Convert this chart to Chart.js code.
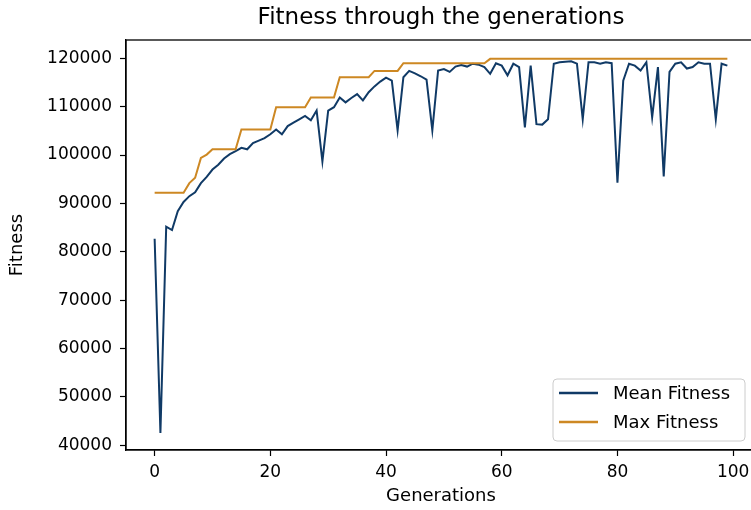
<!DOCTYPE html>
<html>
<head>
<meta charset="utf-8">
<title>Fitness through the generations</title>
<script src="https://cdn.jsdelivr.net/npm/chart.js@4.4.0/dist/chart.umd.min.js"></script>
<style>
  html, body { margin: 0; padding: 0; overflow: hidden; background: #fff; }
  #wrap { width: 751px; height: 510px; overflow: hidden; }
</style>
</head>
<body>
<div id="wrap"><canvas id="chart" width="762" height="510"></canvas></div>
<script>
// values, one per generation (0..99)
var meanFitness = [
  82700, 42500, 85200, 84500, 88400, 90300, 91500, 92300, 94200, 95500,
  97000, 98000, 99300, 100200, 100800, 101500, 101200, 102500, 103000, 103500,
  104300, 105300, 104300, 106000, 106700, 107400, 108100, 107200, 109200, 98700,
  109200, 109900, 111900, 110900, 111800, 112600, 111300, 113000, 114200, 115200,
  116000, 115400, 105100, 116100, 117400, 116900, 116300, 115600, 105100, 117500,
  117800, 117200, 118300, 118600, 118300, 118900, 118700, 118200, 116800, 119000,
  118500, 116500, 118900, 118200, 105700, 118500, 106400, 106300, 107400, 118900,
  119200, 119300, 119400, 118900, 107400, 119200, 119200, 118900, 119200, 119000,
  94300, 115400, 118900, 118500, 117500, 119200, 107800, 118200, 95600, 117200,
  118900, 119200, 117900, 118200, 119200, 118900, 118900, 107400, 118900, 118500
];
var maxFitness = [
  92200, 92200, 92200, 92200, 92200, 92200, 94200, 95300, 99400, 100100,
  101200, 101200, 101200, 101200, 101200, 105300, 105300, 105300, 105300, 105300,
  105300, 109900, 109900, 109900, 109900, 109900, 109900, 111900, 111900, 111900,
  111900, 111900, 116100, 116100, 116100, 116100, 116100, 116100, 117400, 117400,
  117400, 117400, 117400, 119000, 119000, 119000, 119000, 119000, 119000, 119000,
  119000, 119000, 119000, 119000, 119000, 119000, 119000, 119000, 119900, 119900,
  119900, 119900, 119900, 119900, 119900, 119900, 119900, 119900, 119900, 119900,
  119900, 119900, 119900, 119900, 119900, 119900, 119900, 119900, 119900, 119900,
  119900, 119900, 119900, 119900, 119900, 119900, 119900, 119900, 119900, 119900,
  119900, 119900, 119900, 119900, 119900, 119900, 119900, 119900, 119900, 119900
];
var xTicks = [0, 20, 40, 60, 80, 100];
var yTicks = [40000, 50000, 60000, 70000, 80000, 90000, 100000, 110000, 120000];
var seriesNames = ['Mean Fitness', 'Max Fitness'];

function toPoints(values) {
  return values.map(function (v, i) { return { x: i, y: v }; });
}

var fontFamily = '"DejaVu Sans", sans-serif';

// legend box inside the axes, lower right (like matplotlib's loc="lower right")
var insideLegend = {
  id: 'insideLegend',
  afterDraw: function (chart) {
    var ctx = chart.ctx;
    var area = chart.chartArea;
    var w = 192, h = 62;
    var x = area.right - 11 - w;
    var y = area.bottom - 9 - h;
    ctx.save();
    ctx.beginPath();
    ctx.roundRect(x, y, w, h, 4);
    ctx.fillStyle = 'rgba(255,255,255,0.8)';
    ctx.fill();
    ctx.strokeStyle = '#cccccc';
    ctx.lineWidth = 1;
    ctx.stroke();
    ctx.font = '18px ' + fontFamily;
    ctx.textBaseline = 'middle';
    chart.data.datasets.forEach(function (ds, i) {
      var ly = y + 14 + i * 29;
      ctx.beginPath();
      ctx.moveTo(x + 6, ly);
      ctx.lineTo(x + 45, ly);
      ctx.strokeStyle = ds.borderColor;
      ctx.lineWidth = 2.5;
      ctx.stroke();
      ctx.fillStyle = '#000';
      ctx.fillText(ds.label, x + 60, ly + 1);
    });
    ctx.restore();
  }
};

// top / right spines
var frame = {
  id: 'frame',
  afterDatasetsDraw: function (chart) {
    var ctx = chart.ctx;
    var a = chart.chartArea;
    ctx.save();
    ctx.strokeStyle = '#000';
    ctx.lineWidth = 1.3;
    ctx.strokeRect(a.left, a.top, a.right - a.left, a.bottom - a.top);
    ctx.restore();
  }
};

var canvas = document.getElementById('chart');
var chart = new Chart(canvas, {
  type: 'line',
  data: {
    datasets: [{
      label: seriesNames[0],
      data: toPoints(meanFitness),
      borderColor: '#103a66',
      borderWidth: 2,
      pointRadius: 0,
      tension: 0,
      order: 1
    }, {
      label: seriesNames[1],
      data: toPoints(maxFitness),
      borderColor: '#cd8823',
      borderWidth: 2,
      pointRadius: 0,
      tension: 0,
      order: 0
    }]
  },
  options: {
    responsive: false,
    animation: false,
    devicePixelRatio: 1,
    layout: { padding: { left: 0, right: 6, top: 0, bottom: 0 } },
    plugins: {
      legend: { display: false },
      tooltip: { enabled: false },
      title: {
        display: true,
        fullSize: false, // centre over the plot area, like matplotlib
        text: 'Fitness through the generations',
        color: '#000',
        font: { family: fontFamily, size: 23, weight: 'normal' },
        padding: { top: 4, bottom: 8.4 }
      }
    },
    scales: {
      x: {
        type: 'linear',
        min: -4.95,
        max: 103.95,
        afterFit: function (s) { s.height = 60; },
        afterBuildTicks: function (s) { s.ticks = xTicks.map(function (v) { return { value: v }; }); },
        ticks: {
          color: '#000', font: { family: fontFamily, size: 17 }, padding: 6, maxRotation: 0,
          callback: function (v) { return String(v); }
        },
        grid: { drawOnChartArea: false, tickLength: 6, tickColor: '#000', tickWidth: 1.2 },
        border: { color: '#000', width: 1.3 },
        title: {
          display: true, text: 'Generations', color: '#000',
          font: { family: fontFamily, size: 18 }, padding: { top: 0, bottom: 3 }
        }
      },
      y: {
        min: 39000,
        max: 123800,
        afterFit: function (s) { s.width = 126; },
        afterBuildTicks: function (s) { s.ticks = yTicks.map(function (v) { return { value: v }; }); },
        ticks: {
          color: '#000', font: { family: fontFamily, size: 17 }, padding: 8,
          callback: function (v) { return String(v); }
        },
        grid: { drawOnChartArea: false, tickLength: 6, tickColor: '#000', tickWidth: 1.2 },
        border: { color: '#000', width: 1.3 },
        title: {
          display: true, text: 'Fitness', color: '#000',
          font: { family: fontFamily, size: 18 }, padding: { top: 7, bottom: 0 }
        }
      }
    }
  },
  plugins: [insideLegend, frame]
});
</script>
</body>
</html>
